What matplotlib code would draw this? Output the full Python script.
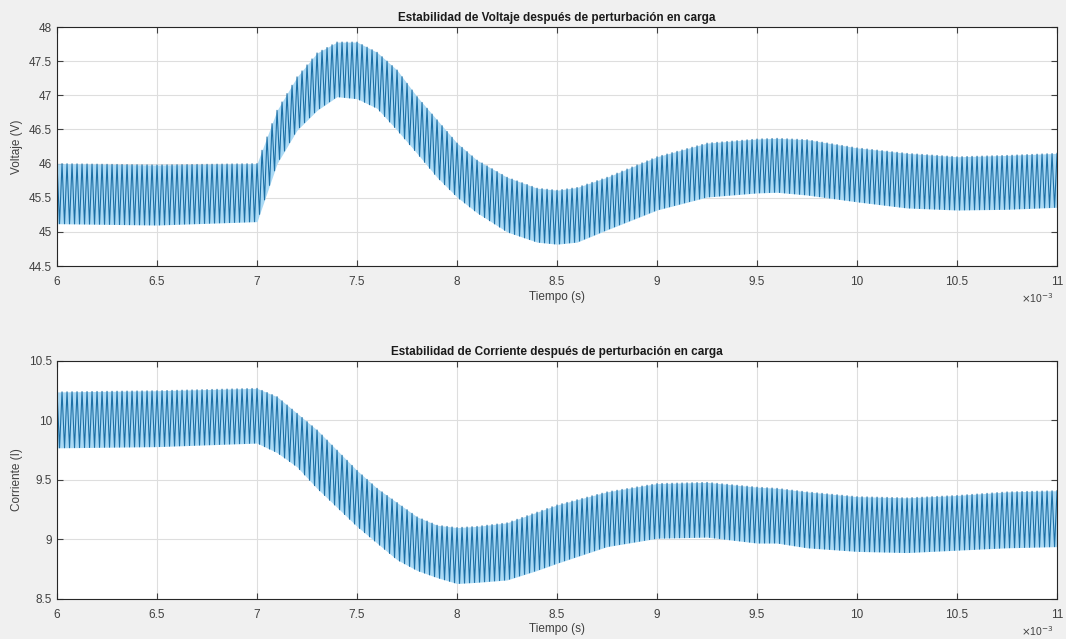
import numpy as np
import matplotlib.pyplot as plt

plt.rcParams['font.family'] = ['Liberation Sans', 'DejaVu Sans']

# envelope of the ripple (time in ms)
t_v = [6.0, 6.5, 7.0, 7.1, 7.2, 7.3, 7.4, 7.5, 7.6, 7.7, 7.8, 7.9, 8.0, 8.1,
       8.25, 8.4, 8.5, 8.6, 8.75, 9.0, 9.25, 9.5, 9.6, 9.75, 10.0, 10.25,
       10.5, 10.75, 11.0]
v_top = [46.0, 45.98, 46.0, 46.78, 47.27, 47.62, 47.78, 47.78, 47.63, 47.37,
         46.98, 46.64, 46.30, 46.05, 45.80, 45.64, 45.61, 45.65, 45.80, 46.10,
         46.30, 46.36, 46.37, 46.35, 46.23, 46.15, 46.10, 46.12, 46.15]
v_bot = [45.12, 45.1, 45.15, 46.0, 46.49, 46.78, 46.98, 46.95, 46.81, 46.49,
         46.15, 45.80, 45.51, 45.28, 45.00, 44.85, 44.82, 44.85, 45.03, 45.32,
         45.51, 45.57, 45.58, 45.54, 45.44, 45.35, 45.32, 45.33, 45.36]

t_i = [6.0, 6.5, 7.0, 7.1, 7.2, 7.3, 7.4, 7.5, 7.6, 7.7, 7.8, 7.9, 8.0, 8.1,
       8.25, 8.4, 8.5, 8.75, 9.0, 9.25, 9.5, 9.6, 9.75, 10.0, 10.25, 10.5,
       10.75, 11.0]
i_top = [10.24, 10.25, 10.27, 10.20, 10.06, 9.92, 9.75, 9.58, 9.43, 9.31,
         9.19, 9.12, 9.10, 9.11, 9.14, 9.23, 9.29, 9.40, 9.47, 9.48, 9.44,
         9.43, 9.40, 9.36, 9.35, 9.37, 9.40, 9.41]
i_bot = [9.77, 9.78, 9.81, 9.73, 9.61, 9.43, 9.27, 9.11, 8.97, 8.83, 8.74,
         8.68, 8.63, 8.64, 8.66, 8.74, 8.80, 8.94, 9.01, 9.02, 8.97, 8.97,
         8.93, 8.90, 8.89, 8.91, 8.93, 8.94]

ripple_khz = 40  # switching ripple counted on the picture

# ripple: alternate between the upper and lower envelope every half period
half = 0.5 / ripple_khz
tt = np.arange(6.0, 11.0 + 1e-9, half)
k = np.arange(len(tt)) % 2 == 0
panels = [
    (t_v, v_top, v_bot, 'Voltaje (V)',
     'Estabilidad de Voltaje después de perturbación en carga',
     (44.5, 48), np.arange(44.5, 48.01, 0.5)),
    (t_i, i_top, i_bot, 'Corriente (I)',
     'Estabilidad de Corriente después de perturbación en carga',
     (8.5, 10.5), np.arange(8.5, 10.51, 0.5)),
]

fig = plt.figure(figsize=(10.66, 6.39), dpi=100, facecolor='#F0F0F0')
ax1 = fig.add_axes([0.0535, 0.5837, 0.9381, 0.374])
ax2 = fig.add_axes([0.0535, 0.0626, 0.9381, 0.3725])

for ax, (t, top, bot, ylab, title, ylim, yt) in zip([ax1, ax2], panels):
    hi = np.interp(tt, t, top)
    lo = np.interp(tt, t, bot)
    y = np.where(k, hi, lo)
    ax.fill_between(tt, lo, hi, color='#aad9f4', lw=0)
    ax.plot(tt, y, color='#1b6fa6', lw=0.8)
    ax.set_xlim(6, 11)
    ax.set_ylim(*ylim)
    ax.set_xticks(np.arange(6, 11.01, 0.5))
    ax.set_xticklabels([f'{v:g}' for v in np.arange(6, 11.01, 0.5)])
    ax.set_yticks(yt)
    ax.set_yticklabels([f'{v:g}' for v in yt])
    ax.grid(True, color='#dedede', lw=0.8)
    ax.set_axisbelow(True)
    ax.tick_params(direction='in', top=True, right=True, length=4,
                   labelsize=8.5, colors='#404040', width=0.8)
    ax.tick_params(axis='x', pad=7)
    for s in ax.spines.values():
        s.set_color('#262626')
        s.set_linewidth(0.8)
    ax.set_title(title, fontsize=8.5, fontweight='bold', color='#1a1a1a', pad=4)
    ax.set_xlabel('Tiempo (s)', fontsize=8.5, color='#404040', labelpad=2)
    ax.set_ylabel(ylab, fontsize=8.5, color='#404040', labelpad=4)
    ax.text(0.996, -0.105, r'$\times\mathregular{10}^{-3}$', transform=ax.transAxes,
            fontsize=7.5, color='#404040', ha='right', va='top')

fig.savefig('out.png', dpi=100, facecolor=fig.get_facecolor())
